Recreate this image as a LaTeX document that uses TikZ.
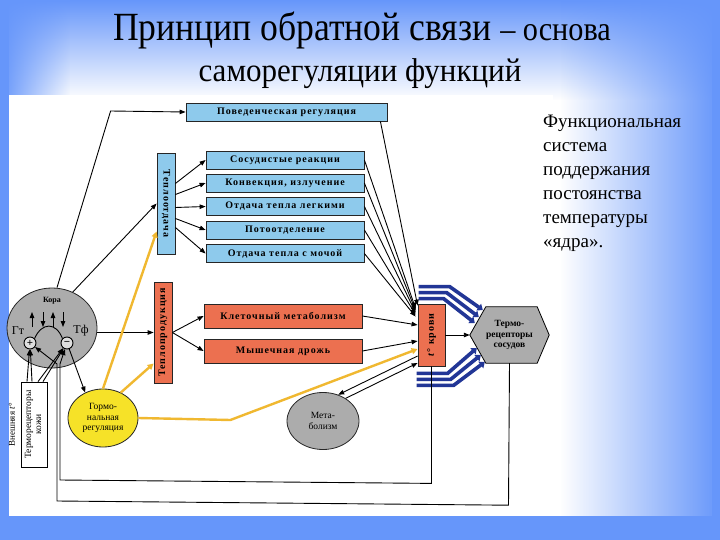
\documentclass[tikz,border=0pt]{standalone}
\usepackage{fontspec}
\setmainfont{Liberation Serif}
\usetikzlibrary{arrows.meta,calc,fadings,shapes.geometric}

\definecolor{slideblue}{RGB}{102,150,250}
\definecolor{boxblue}{RGB}{142,202,236}
\definecolor{boxred}{RGB}{236,112,80}
\definecolor{hormyellow}{RGB}{246,226,40}
\definecolor{linkyellow}{RGB}{240,184,48}
\definecolor{stripeblue}{RGB}{34,54,150}
\definecolor{ovalgray}{RGB}{172,172,172}

\tikzfading[name=fadetop, top color=transparent!0, bottom color=transparent!100]
\tikzfading[name=fadeleft, left color=transparent!0, right color=transparent!100]
\tikzfading[name=faderight, left color=transparent!100, middle color=transparent!85, right color=transparent!0]

\begin{document}
\begin{tikzpicture}[x=1pt,y=-1pt,
    boxfont/.style={font=\bfseries\fontsize{10}{11}\selectfont\addfontfeature{LetterSpace=10}},
    bluebox/.style={boxfont, draw=black!85, line width=0.8pt, fill=boxblue, inner sep=0pt},
    redbox/.style={boxfont, draw=black!85, line width=0.8pt, fill=boxred, inner sep=0pt},
    oval/.style={ellipse, draw=black!85, line width=0.8pt, inner sep=0pt, align=center,
        font=\fontsize{9.5}{10.5}\selectfont},
    sign/.style={circle, draw=black, line width=0.9pt, fill=white!75!gray, inner sep=0pt,
        minimum size=12pt, font=\bfseries\fontsize{11}{11}\selectfont},
    link/.style={line width=0.9pt, -{Triangle[length=6pt,width=4.5pt]}},
    hormlink/.style={linkyellow, line width=2.4pt, -{Triangle[length=6pt,width=6pt]}},
    stripe/.style={stripeblue, line width=3.6pt, -{Triangle[length=5pt,width=8pt]}}]

    % slide background
    \fill[white] (0,0) rectangle (720,540);
    \fill[slideblue, path fading=fadetop] (0,0) rectangle (720,100);
    \fill[slideblue, path fading=fadeleft] (0,0) rectangle (70,100);
    \fill[slideblue, path fading=faderight] (560,0) rectangle (720,540);
    \fill[slideblue] (0,0) rectangle (9,540);
    \fill[slideblue] (712,0) rectangle (720,540);
    \fill[slideblue] (0,516) rectangle (720,540);
    \fill[white] (9,95) rectangle (553,516);

    % title and side text
    \node[anchor=base, font=\fontsize{40}{40}\selectfont] (title1) at (362,41)
        {\scalebox{0.89}[1]{Принцип обратной связи {\fontsize{34}{34}\selectfont – основа}}};
    \node[anchor=base, font=\fontsize{33}{33}\selectfont] (title2) at (360,82)
        {\scalebox{0.94}[1]{саморегуляции функций}};
    \node[anchor=north west, align=left, inner sep=0pt, font=\fontsize{19}{24}\selectfont] (fsys) at (543,115)
        {Функциональная\\система\\поддержания\\постоянства\\температуры\\«ядра».};

    % effector boxes
    \node[bluebox, minimum width=201pt, minimum height=18pt] (beh) at (286.5,112) {Поведенческая регуляция};
    \node[bluebox, minimum width=158pt, minimum height=18pt] (vasc) at (285,160) {Сосудистые реакции};
    \node[bluebox, minimum width=158pt, minimum height=18pt] (conv) at (285,183) {Конвекция, излучение};
    \node[bluebox, minimum width=158pt, minimum height=18pt] (lung) at (285,206.5) {Отдача тепла легкими};
    \node[bluebox, minimum width=158pt, minimum height=18pt] (sweat) at (285,230) {Потоотделение};
    \node[bluebox, minimum width=158pt, minimum height=18pt] (urine) at (285,253.5) {Отдача тепла с мочой};
    \node[bluebox, minimum width=18pt, minimum height=101pt] (heatout) at (166,203.5) {\rotatebox{-90}{Теплоотдача}};
    \node[redbox, minimum width=18pt, minimum height=101pt] (heatprod) at (163,332.5) {\rotatebox{90}{Теплопродукция}};
    \node[redbox, minimum width=158pt, minimum height=24pt] (cell) at (283,316) {Клеточный метаболизм};
    \node[redbox, minimum width=158pt, minimum height=24pt] (shiver) at (283,351) {Мышечная дрожь};
    \node[redbox, minimum width=27pt, minimum height=62pt] (blood) at (431.5,335) {\rotatebox{90}{\textit{t}° крови}};

    % vessel receptors
    \path (509.5,335) node[minimum width=79pt, minimum height=56pt, inner sep=0pt] (tvessel) {};
    \draw[fill=ovalgray, line width=0.8pt] (tvessel.west) -- ($(tvessel.north west)+(16,0)$)
        -- ($(tvessel.north east)+(-12,0)$) -- (tvessel.east) -- ($(tvessel.south east)+(-12,0)$)
        -- ($(tvessel.south west)+(16,0)$) -- cycle;
    \node[align=center, font=\bfseries\fontsize{9.5}{10.5}\selectfont] (tvlabel) at (tvessel) {Термо-\\рецепторы\\сосудов};

    % cortex
    \node[oval, fill=ovalgray, minimum width=90pt, minimum height=80pt] (kora) at (52,328) {};
    \node[font=\bfseries\fontsize{8}{8}\selectfont] (koralbl) at (52,301) {Кора};
    \node[font=\fontsize{12}{12}\selectfont] (gt) at (18,331) {Гт};
    \node[font=\fontsize{12}{12}\selectfont] (tf) at (81,331) {Тф};
    \foreach \x in {32,53} \draw[link] (\x,327) -- (\x,312);
    \foreach \x in {43,63} \draw[link] (\x,312) -- (\x,327);
    \node[sign] (plus) at (30,343) {+};
    \node[sign] (minus) at (67,343) {−};
    \draw[line width=0.9pt] (plus.north east) .. controls (42,322) and (56,322) .. (minus.north west);

    % other ovals and skin receptors
    \node[oval, fill=hormyellow, minimum width=70pt, minimum height=58pt] (horm) at (103,418) {Гормо-\\нальная\\регуляция};
    \node[oval, fill=ovalgray, minimum width=72pt, minimum height=57pt] (metab) at (323,421) {Мета-\\болизм};
    \node[draw, fill=white, line width=0.8pt, minimum width=26pt, minimum height=85pt, inner sep=0pt,
        font=\fontsize{9.5}{10}\selectfont] (skin) at (34,424.5)
        {\rotatebox{90}{\begin{tabular}{@{}c@{}}Терморецепторы\\кожи\end{tabular}}};
    \node[rotate=90, font=\fontsize{9}{9}\selectfont] (ext) at (12,425) {Внешняя \textit{t}°};

    % cortex outputs
    \draw[link] ($(kora.north)+(5,0)$) -- ($(beh.west)+(-75,-1)$) -- (beh.west);
    \draw[link] (kora.60) -- (heatout.west);
    \draw[link] (kora.east |- heatprod.west) -- (heatprod.west);
    \foreach \dst/\dy in {vasc/-20, conv/-9, lung/4, sweat/15, urine/24}
        \draw[link] ($(heatout.east)+(0,\dy)$) -- (\dst.west);
    \draw[link] (heatprod.east) -- (cell.west);
    \draw[link] (heatprod.east) -- (shiver.west);

    % effects on blood temperature
    \draw[link] ($(beh.south east)+(-7,0)$) -- ($(blood.north west)+(0,2)$);
    \foreach \src/\dy in {vasc/5, conv/7, lung/9, sweat/11, urine/13}
        \draw[link] (\src.east) -- ($(blood.north west)+(-2,\dy)$);
    \draw[link] (cell.east) -- ($(blood.west)+(0,-10)$);
    \draw[link] (shiver.east) -- ($(blood.west)+(0,6)$);
    \draw[link] ($(blood.west)+(0,21)$) -- (metab.60);
    \draw[link] (metab.45) -- ($(blood.west)+(0,28)$);
    \draw[link] (blood.east) -- (tvessel.west);

    % hormonal regulation
    \draw[hormlink] (horm.north) -- ($(heatout.west)+(0,28)$);
    \draw[hormlink] (horm.55) -- ($(heatprod.west)+(0,31)$);
    \draw[hormlink] (horm.east) -- ($(horm.east)+(92,2)$) -- ($(blood.west)+(0,14)$);

    % vessel stripes
    \foreach \sy/\bx/\ex/\ey in {-17/32/13/-25, -11/29/9/-18, -5/26/5/-12}
        \draw[stripe] ($(blood.north west)+(1,\sy)$) -- ($(blood.north west)+(\bx,\sy)$) -- ($(tvessel.west)+(\ex,\ey)$);
    \foreach \sy/\bx/\ex/\ey in {7/30/7/13, 13/33/11/20, 19/36/15/27}
        \draw[stripe] ($(blood.south west)+(-1,\sy)$) -- ($(blood.south west)+(\bx,\sy)$) -- ($(tvessel.west)+(\ex,\ey)$);

    % feedback to cortex
    \draw[link] ($(skin.north)+(-7,0)$) -- (plus);
    \draw[link] ($(skin.north)+(-2,0)$) -- (plus);
    \draw[link] ($(skin.north)+(4,0)$) -- (minus);
    \draw[link] ($(skin.north)+(9,0)$) -- (minus);
    \draw[link] (minus) -- (horm.125);
    \draw[link] (blood.south) -- ($(blood.south)+(0,117)$) -- (60,480) -- (60,364) -- (minus);
    \draw[link] (tvessel.south) -- ($(tvessel.south)+(-1,142)$) -- (57,501) -- (57,364) -- (plus);
\end{tikzpicture}
\end{document}
